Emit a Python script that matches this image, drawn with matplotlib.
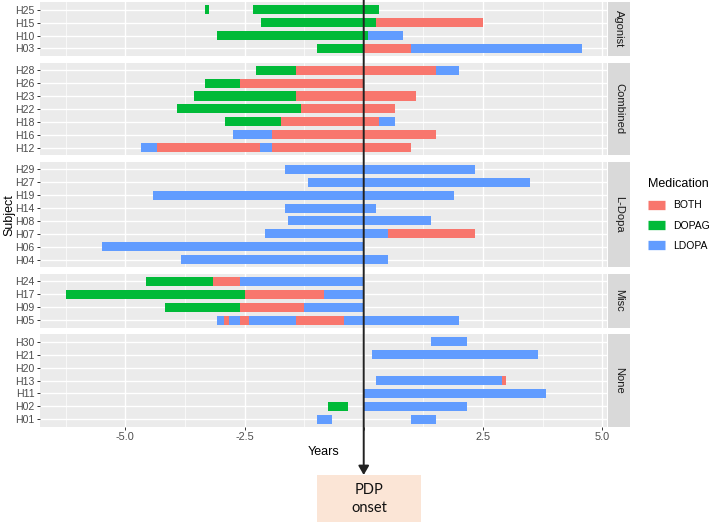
import matplotlib.pyplot as plt
from matplotlib.gridspec import GridSpec
from matplotlib.lines import Line2D
from matplotlib.patches import Rectangle, FancyArrowPatch
from matplotlib.transforms import blended_transform_factory

plt.rcParams['font.family'] = ['Liberation Sans', 'DejaVu Sans']

# facets and subjects (bottom -> top within each facet)
groups = ['Agonist', 'Combined', 'L-Dopa', 'Misc', 'None']
group_subjects = [
    ['H03', 'H10', 'H15', 'H25'],
    ['H12', 'H16', 'H18', 'H22', 'H23', 'H26', 'H28'],
    ['H04', 'H06', 'H07', 'H08', 'H14', 'H19', 'H27', 'H29'],
    ['H05', 'H09', 'H17', 'H24'],
    ['H01', 'H02', 'H11', 'H13', 'H20', 'H21', 'H30'],
]

medications = ['BOTH', 'DOPAG', 'LDOPA']
med_colors = {'BOTH': '#F8766D', 'DOPAG': '#00BA38', 'LDOPA': '#619CFF'}

# medication periods: (subject, medication, start, end) in years relative to PDP onset
agonist_segments = [
    ('H25', 'DOPAG', -3.33, -3.24), ('H25', 'DOPAG', -2.32, 0.32),
    ('H15', 'DOPAG', -2.16, 0.25), ('H15', 'BOTH', 0.25, 2.50),
    ('H10', 'DOPAG', -3.08, 0.08), ('H10', 'LDOPA', 0.08, 0.83),
    ('H03', 'DOPAG', -0.99, 0.00), ('H03', 'BOTH', 0.00, 1.00), ('H03', 'LDOPA', 1.00, 4.58),
]
combined_segments = [
    ('H28', 'DOPAG', -2.25, -1.41), ('H28', 'BOTH', -1.41, 1.51), ('H28', 'LDOPA', 1.51, 1.99),
    ('H26', 'DOPAG', -3.33, -2.59), ('H26', 'BOTH', -2.59, 0.00),
    ('H23', 'DOPAG', -3.57, -1.41), ('H23', 'BOTH', -1.41, 1.09),
    ('H22', 'DOPAG', -3.91, -1.32), ('H22', 'BOTH', -1.32, 0.66),
    ('H18', 'DOPAG', -2.92, -1.74), ('H18', 'BOTH', -1.74, 0.33), ('H18', 'LDOPA', 0.33, 0.66),
    ('H16', 'LDOPA', -2.75, -1.92), ('H16', 'BOTH', -1.92, 1.51),
    ('H12', 'LDOPA', -4.67, -4.33), ('H12', 'BOTH', -4.33, -2.18),
    ('H12', 'LDOPA', -2.18, -1.92), ('H12', 'BOTH', -1.92, 0.99),
]
ldopa_segments = [
    ('H29', 'LDOPA', -1.65, 2.33),
    ('H27', 'LDOPA', -1.17, 3.49),
    ('H19', 'LDOPA', -4.41, 1.90),
    ('H14', 'LDOPA', -1.65, 0.25),
    ('H08', 'LDOPA', -1.59, 1.42),
    ('H07', 'LDOPA', -2.08, 0.50), ('H07', 'BOTH', 0.50, 2.33),
    ('H06', 'LDOPA', -5.49, 0.00),
    ('H04', 'LDOPA', -3.83, 0.50),
]
misc_segments = [
    ('H24', 'DOPAG', -4.57, -3.17), ('H24', 'BOTH', -3.17, -2.59), ('H24', 'LDOPA', -2.59, 0.00),
    ('H17', 'DOPAG', -6.24, -2.50), ('H17', 'BOTH', -2.50, -0.84), ('H17', 'LDOPA', -0.84, 0.00),
    ('H09', 'DOPAG', -4.17, -2.59), ('H09', 'BOTH', -2.59, -1.26), ('H09', 'LDOPA', -1.26, 0.00),
    ('H05', 'LDOPA', -3.08, -2.93), ('H05', 'BOTH', -2.93, -2.83), ('H05', 'LDOPA', -2.83, -2.59),
    ('H05', 'BOTH', -2.59, -2.41), ('H05', 'LDOPA', -2.41, -1.41), ('H05', 'BOTH', -1.41, -0.42),
    ('H05', 'LDOPA', -0.42, 1.99),
]
none_segments = [
    ('H30', 'LDOPA', 1.42, 2.17),
    ('H21', 'LDOPA', 0.17, 3.66),
    ('H13', 'LDOPA', 0.25, 2.91), ('H13', 'BOTH', 2.91, 2.99),
    ('H11', 'LDOPA', 0.00, 3.82),
    ('H02', 'DOPAG', -0.75, -0.34), ('H02', 'LDOPA', 0.00, 2.17),
    ('H01', 'LDOPA', -0.99, -0.67), ('H01', 'LDOPA', 1.00, 1.51),
]
group_segments = [agonist_segments, combined_segments, ldopa_segments,
                  misc_segments, none_segments]

x_ticks = [-5.0, -2.5, 0.0, 2.5, 5.0]
x_ticklabels = ['-5.0', '-2.5', '', '2.5', '5.0']

W, H = 709, 522
fig = plt.figure(figsize=(W / 100, H / 100), dpi=100)
gs = GridSpec(5, 2, figure=fig, left=40 / W, right=630 / W, top=1 - 2 / H, bottom=1 - 427 / H,
              width_ratios=[568, 22], height_ratios=[len(s) + 0.2 for s in group_subjects],
              hspace=0.08, wspace=0.004)

axes = []
for i, (name, subjects, segs) in enumerate(zip(groups, group_subjects, group_segments)):
    ax = fig.add_subplot(gs[i, 0])
    axes.append(ax)
    ax.set_facecolor('#EBEBEB')
    for sp in ax.spines.values():
        sp.set_visible(False)
    ypos = {s: k for k, s in enumerate(subjects)}
    for subj, med, start, end in segs:
        ax.barh(ypos[subj], end - start, left=start, height=0.7,
                color=med_colors[med], linewidth=0, zorder=3)
    ax.set_xlim(-6.79, 5.10)
    ax.set_ylim(-0.6, len(subjects) - 1 + 0.6)
    ax.set_yticks(range(len(subjects)))
    ax.set_yticklabels(subjects)
    ax.set_xticks(x_ticks)
    ax.set_xticks([-6.25, -3.75, -1.25, 1.25, 3.75], minor=True)
    ax.grid(which='major', color='white', linewidth=1.0, zorder=1)
    ax.grid(which='minor', axis='x', color='white', linewidth=0.5, zorder=1)
    ax.set_axisbelow(True)
    ax.tick_params(axis='y', which='major', length=2.2, width=0.7, color='#333333',
                   labelcolor='#4D4D4D', labelsize=7.6, pad=1.5)
    ax.tick_params(axis='x', which='minor', length=0)
    if i < len(groups) - 1:
        ax.tick_params(axis='x', which='major', length=0, labelbottom=False)
    else:
        ax.set_xticklabels(x_ticklabels)
        ax.tick_params(axis='x', which='major', length=2.2, width=0.7, color='#333333',
                       labelcolor='#4D4D4D', labelsize=7.8, pad=1.5)

    sax = fig.add_subplot(gs[i, 1])
    sax.set_facecolor('#D9D9D9')
    for sp in sax.spines.values():
        sp.set_visible(False)
    sax.set_xticks([])
    sax.set_yticks([])
    sax.text(0.5, 0.5, name, rotation=-90, ha='center', va='center',
             fontsize=8, color='#1A1A1A', transform=sax.transAxes)

fig.text(324 / W, 1 - 452 / H, 'Years', ha='center', va='center', fontsize=9)
fig.text(9 / W, 1 - 215 / H, 'Subject', ha='center', va='center', rotation=90, fontsize=9)

handles = [Line2D([], [], color=med_colors[m], lw=6.7, solid_capstyle='butt') for m in medications]
leg = fig.legend(handles, medications, title='Medication', loc='upper left',
                 bbox_to_anchor=(644 / W, 1 - 174 / H), frameon=False, fontsize=7.5,
                 title_fontsize=9, handlelength=1.6, handletextpad=0.8,
                 labelspacing=0.98, alignment='left', borderaxespad=0)

# PDP onset marker: arrow at x = 0 and label box
bottom_ax = axes[-1]
trans = blended_transform_factory(bottom_ax.transData, fig.transFigure)
fig.add_artist(Rectangle((317 / W, 0), 104 / W, 47 / H, transform=fig.transFigure,
                         facecolor='#FBE5D6', edgecolor='none', zorder=4))
fig.add_artist(FancyArrowPatch((0, 1.0), (0, 1 - 475 / H), transform=trans,
                               arrowstyle='-|>,head_length=0.6,head_width=0.35',
                               mutation_scale=9, lw=1.4, color='#222222',
                               shrinkA=0, shrinkB=0, zorder=5))
fig.text(369 / W, 1 - 499 / H, 'PDP\nonset', ha='center', va='center',
         family=['Lato', 'DejaVu Sans'], fontsize=10.5, linespacing=1.3, color='#111111', zorder=6)

fig.savefig('out.png', dpi=100)
